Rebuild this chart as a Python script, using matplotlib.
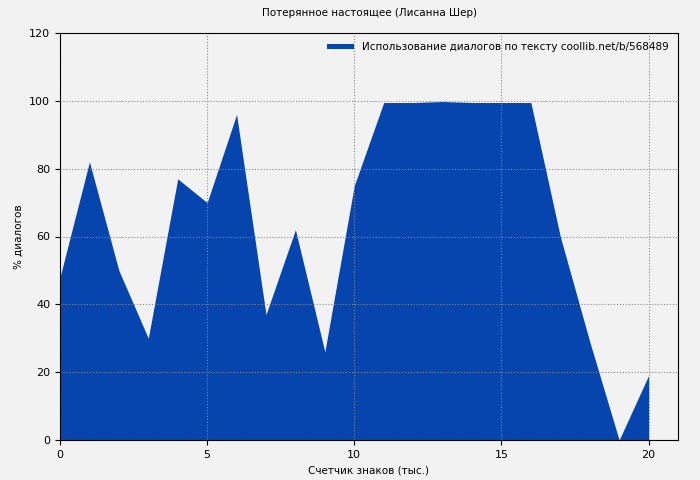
import matplotlib.pyplot as plt

plt.rcParams['font.family'] = ['DejaVu Sans']

# Доля диалогов по тысячам знаков
x_thousands = list(range(21))
dialog_pct = [48, 82, 50, 30, 77, 70, 96, 37, 62, 26, 75,
              99.5, 99.5, 99.8, 99.5, 99.5, 99.5, 60, 29, 0, 19]

fig = plt.figure(figsize=(7, 4.8), dpi=100, facecolor='#f2f2f2')
ax = fig.add_axes([60/700, 40/480, 618/700, 407/480])
ax.set_facecolor('#f2f2f2')

ax.fill_between(x_thousands, dialog_pct, color='#0645ad', linewidth=0,
                label='Использование диалогов по тексту coollib.net/b/568489')

ax.set_xlim(0, 21)
ax.set_ylim(0, 120)
ax.set_xticks([0, 5, 10, 15, 20])
ax.set_yticks(range(0, 121, 20))
ax.grid(True, color='#888888', linestyle=':', linewidth=0.8)
ax.tick_params(labelsize=8)

ax.set_title('Потерянное настоящее (Лисанна Шер)', fontsize=7.5, pad=12)
ax.set_xlabel('Счетчик знаков (тыс.)', fontsize=7.5)
ax.set_ylabel('% диалогов', fontsize=7.5)
ax.legend(loc='upper right', fontsize=7.5, frameon=False, handlelength=2.5,
          handleheight=0.4)

fig.savefig('out.png', dpi=100, facecolor=fig.get_facecolor())
